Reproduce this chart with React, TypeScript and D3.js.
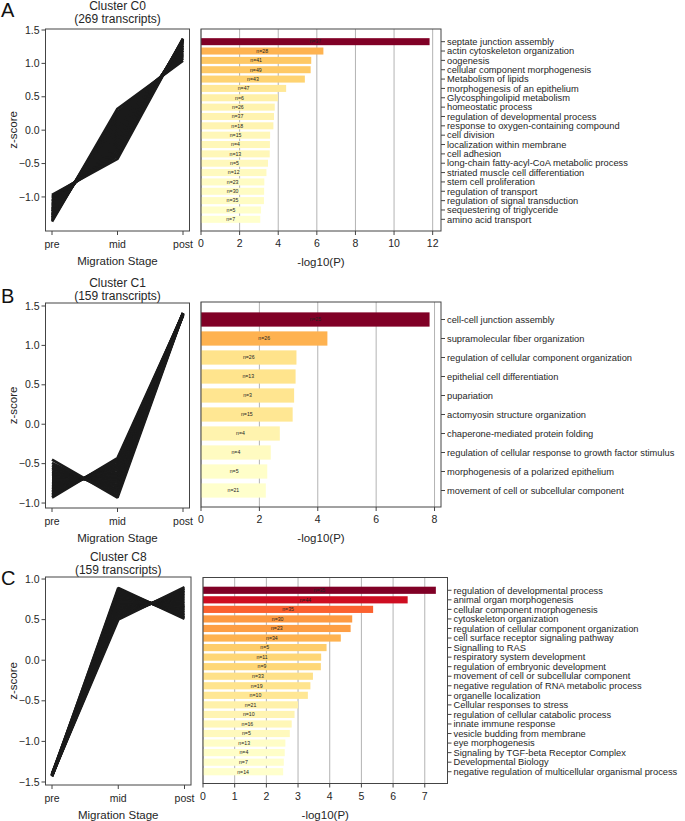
import React from "react";
import * as d3 from "d3";

// ---- data ----
const stages = ["pre", "mid", "post"];

// representative z-score profiles [pre, mid, post]
const c0Profiles = [
  [-1.37, 0.32, 1.04], [-1.35, 0.27, 1.07], [-1.33, 0.24, 1.08], [-1.31, 0.2, 1.1],
  [-1.3, 0.17, 1.12], [-1.28, 0.14, 1.13], [-1.26, 0.1, 1.15], [-1.24, 0.06, 1.17],
  [-1.22, 0.03, 1.19], [-1.21, 0.0, 1.2], [-1.19, -0.03, 1.22], [-1.17, -0.07, 1.24],
  [-1.15, -0.1, 1.26], [-1.13, -0.14, 1.27], [-1.11, -0.18, 1.29], [-1.09, -0.21, 1.31],
  [-1.07, -0.25, 1.33], [-1.05, -0.28, 1.34], [-1.03, -0.32, 1.35], [-1.01, -0.36, 1.36],
  [-0.99, -0.39, 1.37], [-0.97, -0.43, 1.37],
];
const c1Profiles = [
  [-0.93, -0.43, 1.4], [-0.91, -0.45, 1.39], [-0.89, -0.47, 1.4], [-0.87, -0.5, 1.41],
  [-0.85, -0.52, 1.39], [-0.83, -0.54, 1.4], [-0.81, -0.56, 1.38], [-0.79, -0.58, 1.4],
  [-0.77, -0.61, 1.41], [-0.75, -0.63, 1.39], [-0.73, -0.65, 1.4], [-0.71, -0.67, 1.4],
  [-0.69, -0.69, 1.38], [-0.67, -0.71, 1.41], [-0.64, -0.74, 1.4], [-0.62, -0.77, 1.39],
  [-0.6, -0.79, 1.4], [-0.57, -0.82, 1.41], [-0.55, -0.84, 1.39], [-0.52, -0.87, 1.4],
  [-0.49, -0.9, 1.4], [-0.45, -0.93, 1.39],
];
const c8Profiles = [
  [-1.42, 0.89, 0.51], [-1.41, 0.87, 0.53], [-1.43, 0.85, 0.55], [-1.42, 0.83, 0.57],
  [-1.4, 0.81, 0.59], [-1.42, 0.79, 0.61], [-1.41, 0.77, 0.63], [-1.43, 0.75, 0.65],
  [-1.42, 0.74, 0.66], [-1.41, 0.72, 0.68], [-1.42, 0.7, 0.7], [-1.43, 0.68, 0.72],
  [-1.41, 0.66, 0.74], [-1.42, 0.64, 0.76], [-1.4, 0.62, 0.78], [-1.42, 0.6, 0.8],
  [-1.43, 0.58, 0.82], [-1.41, 0.56, 0.84], [-1.42, 0.54, 0.86], [-1.41, 0.52, 0.88],
  [-1.42, 0.5, 0.9],
];

const c0Terms = [
  "septate junction assembly", "actin cytoskeleton organization", "oogenesis",
  "cellular component morphogenesis", "Metabolism of lipids", "morphogenesis of an epithelium",
  "Glycosphingolipid metabolism", "homeostatic process", "regulation of developmental process",
  "response to oxygen-containing compound", "cell division", "localization within membrane",
  "cell adhesion", "long-chain fatty-acyl-CoA metabolic process", "striated muscle cell differentiation",
  "stem cell proliferation", "regulation of transport", "regulation of signal transduction",
  "sequestering of triglyceride", "amino acid transport",
];
const c0LogP = [11.84, 6.34, 5.71, 5.68, 5.38, 4.41, 3.99, 3.82, 3.78, 3.75, 3.58, 3.57, 3.56, 3.47, 3.39, 3.28, 3.27, 3.26, 3.11, 3.07];
const c0Counts = [37, 28, 41, 49, 43, 47, 6, 26, 37, 18, 15, 4, 13, 5, 12, 23, 30, 35, 5, 7];
const c0Ticks = [0, 2, 4, 6, 8, 10, 12];

const c1Terms = [
  "cell-cell junction assembly", "supramolecular fiber organization",
  "regulation of cellular component organization", "epithelial cell differentiation", "pupariation",
  "actomyosin structure organization", "chaperone-mediated protein folding",
  "regulation of cellular response to growth factor stimulus", "morphogenesis of a polarized epithelium",
  "movement of cell or subcellular component",
];
const c1LogP = [7.83, 4.33, 3.27, 3.24, 3.19, 3.14, 2.7, 2.39, 2.27, 2.22];
const c1Counts = [25, 26, 26, 13, 3, 15, 4, 4, 5, 21];
const c1Ticks = [0, 2, 4, 6, 8];

const c8Terms = [
  "regulation of developmental process", "animal organ morphogenesis", "cellular component morphogenesis",
  "cytoskeleton organization", "regulation of cellular component organization",
  "cell surface receptor signaling pathway", "Signalling to RAS", "respiratory system development",
  "regulation of embryonic development", "movement of cell or subcellular component",
  "negative regulation of RNA metabolic process", "organelle localization", "Cellular responses to stress",
  "regulation of cellular catabolic process", "innate immune response", "vesicle budding from membrane",
  "eye morphogenesis", "Signaling by TGF-beta Receptor Complex", "Developmental Biology",
  "negative regulation of multicellular organismal process",
];
const c8LogP = [7.35, 6.46, 5.37, 4.71, 4.66, 4.35, 3.9, 3.73, 3.72, 3.47, 3.39, 3.31, 3.0, 2.89, 2.8, 2.74, 2.6, 2.58, 2.55, 2.53];
const c8Counts = [35, 44, 35, 30, 23, 34, 5, 11, 9, 33, 19, 10, 21, 10, 16, 5, 13, 4, 7, 14];
const c8Ticks = [0, 1, 2, 3, 4, 5, 6, 7];

const zTicksA = [-1.0, -0.5, 0.0, 0.5, 1.0, 1.5];
const zTicksC = [-1.5, -1.0, -0.5, 0.0, 0.5, 1.0];

const FONT = "'Liberation Sans', Arial, Helvetica, sans-serif";
const TEXT = "#262626";
const AXIS = "#444";

const fmtZ = (v: number) => (v < 0 ? "\u2212" + Math.abs(v).toFixed(1) : v.toFixed(1));

interface LineProps {
  profiles: number[][];
  box: { l: number; r: number; t: number; b: number };
  zDomain: [number, number];
  zTicks: number[];
  title: string;
  sub: string;
  titleY: number;
}

const LinePanel: React.FC<LineProps> = ({ profiles, box, zDomain, zTicks, title, sub, titleY }) => {
  const x = d3.scalePoint<string>().domain(stages).range([box.l + 6.5, box.r - 6.5]);
  const y = d3.scaleLinear().domain(zDomain).range([box.b, box.t]);
  const line = d3
    .line<number>()
    .x((_, i) => x(stages[i])!)
    .y((d) => y(d));
  const cx = (box.l + box.r) / 2;
  return (
    <g fontFamily={FONT}>
      <text x={cx} y={titleY - 0.5} textAnchor="middle" fontSize={12} fill={TEXT}>{title}</text>
      <text x={cx} y={titleY + 12.5} textAnchor="middle" fontSize={12} fill={TEXT}>{sub}</text>
      {profiles.map((p, i) => (
        <path key={i} d={line(p)!} fill="none" stroke="#1a1a1a" strokeWidth={2.7} strokeLinejoin="bevel" />
      ))}
      <rect x={box.l} y={box.t} width={box.r - box.l} height={box.b - box.t} fill="none" stroke={AXIS} strokeWidth={1} />
      {zTicks.map((t) => (
        <g key={t}>
          <line x1={box.l - 4} x2={box.l} y1={y(t)} y2={y(t)} stroke={AXIS} />
          <text x={box.l - 6} y={y(t)} dy="0.35em" textAnchor="end" fontSize={10.5} fill={TEXT}>{fmtZ(t)}</text>
        </g>
      ))}
      {stages.map((s) => (
        <g key={s}>
          <line x1={x(s)} x2={x(s)} y1={box.b} y2={box.b + 4} stroke={AXIS} />
          <text x={x(s)} y={box.b + 13} dy="0.35em" textAnchor="middle" fontSize={10.5} fill={TEXT}>{s}</text>
        </g>
      ))}
      <text x={cx} y={box.b + 30} dy="0.35em" textAnchor="middle" fontSize={11.5} fill={TEXT}>Migration Stage</text>
      <text
        transform={`translate(${box.l - 33},${(box.t + box.b) / 2}) rotate(-90)`}
        textAnchor="middle"
        dy="0.35em"
        fontSize={11.5}
        fill={TEXT}
      >
        z-score
      </text>
    </g>
  );
};

interface BarProps {
  terms: string[];
  values: number[];
  counts: number[];
  ticks: number[];
  box: { l: number; r: number; t: number; b: number };
}

const BarPanel: React.FC<BarProps> = ({ terms, values, counts, ticks, box }) => {
  const maxV = d3.max(values)!;
  const minV = d3.min(values)!;
  const x = d3.scaleLinear().domain([0, maxV * 1.05]).range([box.l, box.r]);
  const y = d3
    .scaleBand<string>()
    .domain(terms)
    .range([box.t + 8, box.b - 7])
    .paddingInner(0.25)
    .paddingOuter(0.125);
  const color = (v: number) => d3.interpolateYlOrRd((v - minV) / (maxV - minV));
  return (
    <g fontFamily={FONT}>
      {ticks.map((t) => (
        <line key={t} x1={x(t)} x2={x(t)} y1={box.t} y2={box.b} stroke="#b3b3b3" strokeWidth={1} />
      ))}
      {terms.map((term, i) => (
        <g key={term + i}>
          <rect x={x(0)} y={y(term)} width={x(values[i]) - x(0)} height={y.bandwidth()} fill={color(values[i])} />
          <text
            x={(x(0) + x(values[i])) / 2}
            y={y(term)! + y.bandwidth() / 2}
            dy="0.35em"
            textAnchor="middle"
            fontSize={5.2}
            fill="#222"
          >
            n={counts[i]}
          </text>
          <line x1={box.r} x2={box.r + 4} y1={y(term)! + y.bandwidth() / 2} y2={y(term)! + y.bandwidth() / 2} stroke={AXIS} />
          <text x={box.r + 6} y={y(term)! + y.bandwidth() / 2} dy="0.35em" fontSize={9.3} fill={TEXT}>{term}</text>
        </g>
      ))}
      <rect x={box.l} y={box.t} width={box.r - box.l} height={box.b - box.t} fill="none" stroke={AXIS} strokeWidth={1} />
      {ticks.map((t) => (
        <g key={"t" + t}>
          <line x1={x(t)} x2={x(t)} y1={box.b} y2={box.b + 4} stroke={AXIS} />
          <text x={x(t)} y={box.b + 12.5} dy="0.35em" textAnchor="middle" fontSize={10.5} fill={TEXT}>{t}</text>
        </g>
      ))}
      <text x={(box.l + box.r) / 2} y={box.b + 31} dy="0.35em" textAnchor="middle" fontSize={11.5} fill={TEXT}>-log10(P)</text>
    </g>
  );
};

export default function App() {
  return (
    <div style={{ position: "absolute", left: 0, top: 0 }}>
      <svg width={685} height={821} style={{ display: "block", background: "#fff" }}>
        <text x={1} y={17} fontSize={20} fontFamily={FONT} fill="#111">A</text>
        <text x={1} y={303} fontSize={20} fontFamily={FONT} fill="#111">B</text>
        <text x={1} y={585} fontSize={20} fontFamily={FONT} fill="#111">C</text>

        <LinePanel
          profiles={c0Profiles}
          box={{ l: 45.5, r: 189.5, t: 29, b: 231 }}
          zDomain={[-1.51, 1.515]}
          zTicks={zTicksA}
          title="Cluster C0"
          sub="(269 transcripts)"
          titleY={10.5}
        />
        <BarPanel terms={c0Terms} values={c0LogP} counts={c0Counts} ticks={c0Ticks} box={{ l: 201, r: 441, t: 29, b: 231 }} />

        <LinePanel
          profiles={c1Profiles}
          box={{ l: 45.5, r: 189.5, t: 303, b: 508 }}
          zDomain={[-1.063, 1.538]}
          zTicks={zTicksA}
          title="Cluster C1"
          sub="(159 transcripts)"
          titleY={287}
        />
        <BarPanel terms={c1Terms} values={c1LogP} counts={c1Counts} ticks={c1Ticks} box={{ l: 201, r: 441, t: 302, b: 507 }} />

        <LinePanel
          profiles={c8Profiles}
          box={{ l: 45.5, r: 191, t: 577, b: 785 }}
          zDomain={[-1.537, 1.025]}
          zTicks={zTicksC}
          title="Cluster C8"
          sub="(159 transcripts)"
          titleY={561}
        />
        <BarPanel terms={c8Terms} values={c8LogP} counts={c8Counts} ticks={c8Ticks} box={{ l: 203, r: 447.5, t: 577.5, b: 783.5 }} />
      </svg>
    </div>
  );
}
